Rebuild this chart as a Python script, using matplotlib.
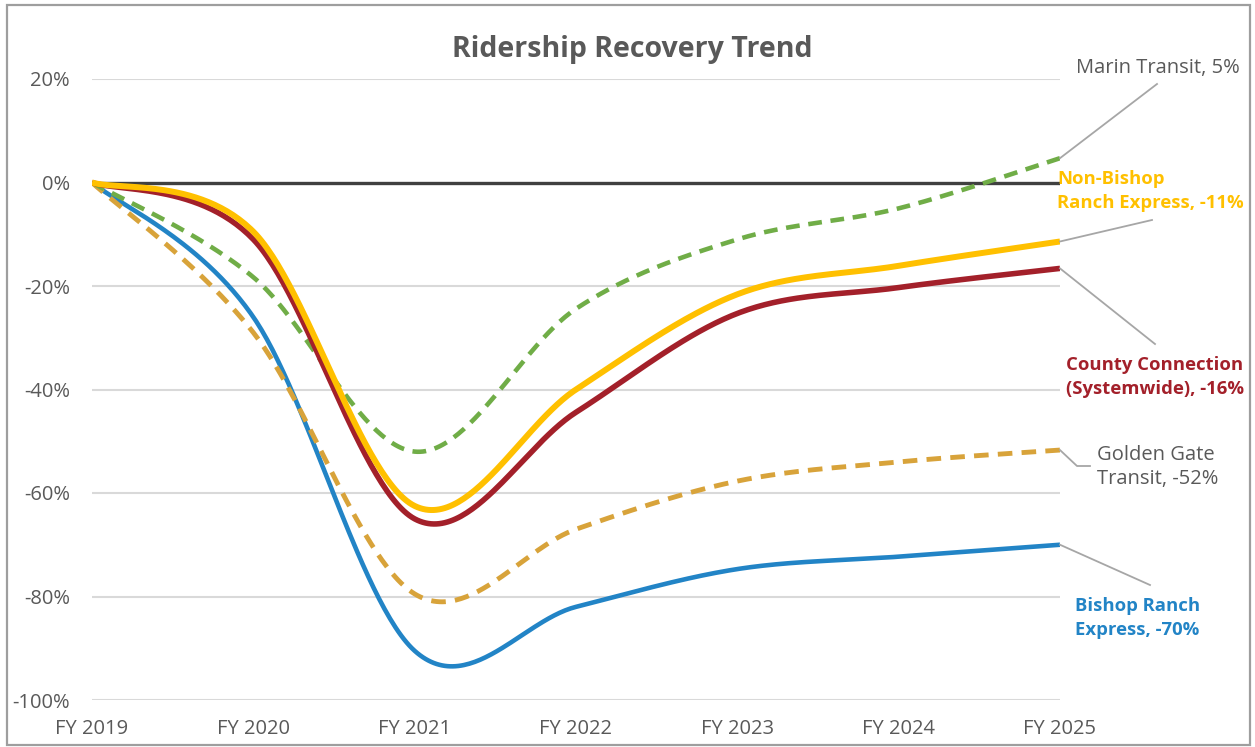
import numpy as np
import matplotlib
matplotlib.use("Agg")
import matplotlib.pyplot as plt
from matplotlib.patches import Rectangle
from matplotlib.ticker import FuncFormatter

# ---------------- data ----------------
years = ["FY 2019", "FY 2020", "FY 2021", "FY 2022", "FY 2023", "FY 2024", "FY 2025"]
bishop_ranch = [0, -26, -90.5, -82, -74.7, -72.3, -70]
golden_gate = [0, -29, -79.5, -67, -57.7, -54, -51.7]
marin = [0, -18.3, -52, -24.4, -11, -5, 4.7]
county_conn = [0, -11, -65, -44.4, -25.3, -20.3, -16.6]
non_bishop = [0, -9.5, -62.5, -40, -21.6, -16.1, -11.4]

labels = {
    "marin": "Marin Transit, 5%",
    "non_bishop": "Non-Bishop\nRanch Express, -11%",
    "county": "County Connection\n(Systemwide), -16%",
    "golden": "Golden Gate\nTransit, -52%",
    "bishop": "Bishop Ranch\nExpress, -70%",
}
yticks = [20, 0, -20, -40, -60, -80, -100]


def smooth(values, n=60):
    """Excel-style smoothed line (Catmull-Rom Bezier through the points)."""
    p = np.array(values, dtype=float)
    x = np.arange(len(p), dtype=float)
    pts = np.column_stack([x, p])
    ext = np.vstack([pts[0], pts, pts[-1]])
    out = []
    t = np.linspace(0, 1, n)[:, None]
    for i in range(len(pts) - 1):
        p0, p1, p2, p3 = ext[i], ext[i + 1], ext[i + 2], ext[i + 3]
        c1 = p1 + (p2 - p0) / 6.0
        c2 = p2 - (p3 - p1) / 6.0
        seg = ((1 - t) ** 3) * p1 + 3 * ((1 - t) ** 2) * t * c1 + 3 * (1 - t) * t ** 2 * c2 + t ** 3 * p2
        out.append(seg if i == 0 else seg[1:])
    arr = np.vstack(out)
    return arr[:, 0], arr[:, 1]


W, H = 1255, 747
plt.rcParams["font.family"] = ["Open Sans", "DejaVu Sans"]
fig = plt.figure(figsize=(W / 100, H / 100), dpi=100)

ax = fig.add_axes([92 / W, 1 - 700 / H, (1060 - 92) / W, (700 - 79) / H])
ax.set_xlim(0, len(years) - 1)
ax.set_ylim(-100, 20)

GRAY_TXT = "#595959"
ax.set_yticks(yticks)
ax.yaxis.set_major_formatter(FuncFormatter(lambda v, _: f"{int(v)}%"))
ax.set_xticks(range(len(years)))
ax.set_xticklabels(years)
ax.tick_params(axis="both", length=0, labelsize=14.5, colors=GRAY_TXT)
ax.tick_params(axis="y", pad=16)
ax.tick_params(axis="x", pad=14)
ax.grid(axis="y", color="#D9D9D9", lw=1.5)
ax.set_axisbelow(True)
for s in ax.spines.values():
    s.set_visible(False)

ax.axhline(0, color="#404040", lw=2.4, zorder=2)

C_BLUE = "#2284C6"
C_GOLD = "#D8A33A"
C_GREEN = "#70AD47"
C_RED = "#A3202A"
C_YEL = "#FFC000"

series = [
    (bishop_ranch, C_BLUE, "-", 3.3),
    (golden_gate, C_GOLD, (0, (3.0, 1.9)), 3.5),
    (marin, C_GREEN, (0, (3.0, 1.9)), 3.3),
    (county_conn, C_RED, "-", 4.0),
    (non_bishop, C_YEL, "-", 4.3),
]
for vals, col, ls, lw in series:
    xs, ys = smooth(vals)
    ax.plot(xs, ys, color=col, ls=ls, lw=lw, zorder=3, solid_capstyle="butt", dash_capstyle="butt")


def fig_xy(px, py):
    return px / W, 1 - py / H


LEAD = "#A6A6A6"
last = len(years) - 1
leaders = [
    (marin[-1], [(1157, 84)]),
    (non_bishop[-1], [(1152, 220)]),
    (county_conn[-1], [(1155, 344)]),
    (golden_gate[-1], [(1077, 466), (1090, 466)]),
    (bishop_ranch[-1], [(1150, 585)]),
]
for v, pts in leaders:
    x0, y0 = ax.transData.transform((last, v))
    xs = [x0 / W] + [p[0] / W for p in pts]
    ys = [y0 / H] + [1 - p[1] / H for p in pts]
    fig.add_artist(plt.Line2D(xs, ys, color=LEAD, lw=1.3, transform=fig.transFigure))

fs = 14.5
fsb = 13.3
ls_ = 1.3
fig.text(*fig_xy(1158, 68), labels["marin"], color=GRAY_TXT, fontsize=fs, ha="center", va="center")
fig.text(*fig_xy(1057, 191), labels["non_bishop"], color=C_YEL, fontsize=fsb, ha="left", va="center",
         fontweight="bold", linespacing=1.4)
fig.text(*fig_xy(1155, 377), labels["county"], color=C_RED, fontsize=fsb, ha="center", va="center",
         fontweight="bold", linespacing=1.4, multialignment="center")
fig.text(*fig_xy(1097, 467), labels["golden"], color=GRAY_TXT, fontsize=fs, ha="left", va="center",
         linespacing=ls_)
fig.text(*fig_xy(1075, 618), labels["bishop"], color=C_BLUE, fontsize=fsb, ha="left", va="center",
         fontweight="bold", linespacing=1.4)

fig.text(*fig_xy(632, 50), "Ridership Recovery Trend", color=GRAY_TXT, fontsize=20.5,
         fontweight="bold", ha="center", va="center")

fig.add_artist(Rectangle((7 / W, 1 - 745 / H), (1250 - 7) / W, (745 - 5) / H, transform=fig.transFigure,
                         fill=False, edgecolor="#9E9E9E", lw=1.6))

fig.savefig("out.png", dpi=100)
